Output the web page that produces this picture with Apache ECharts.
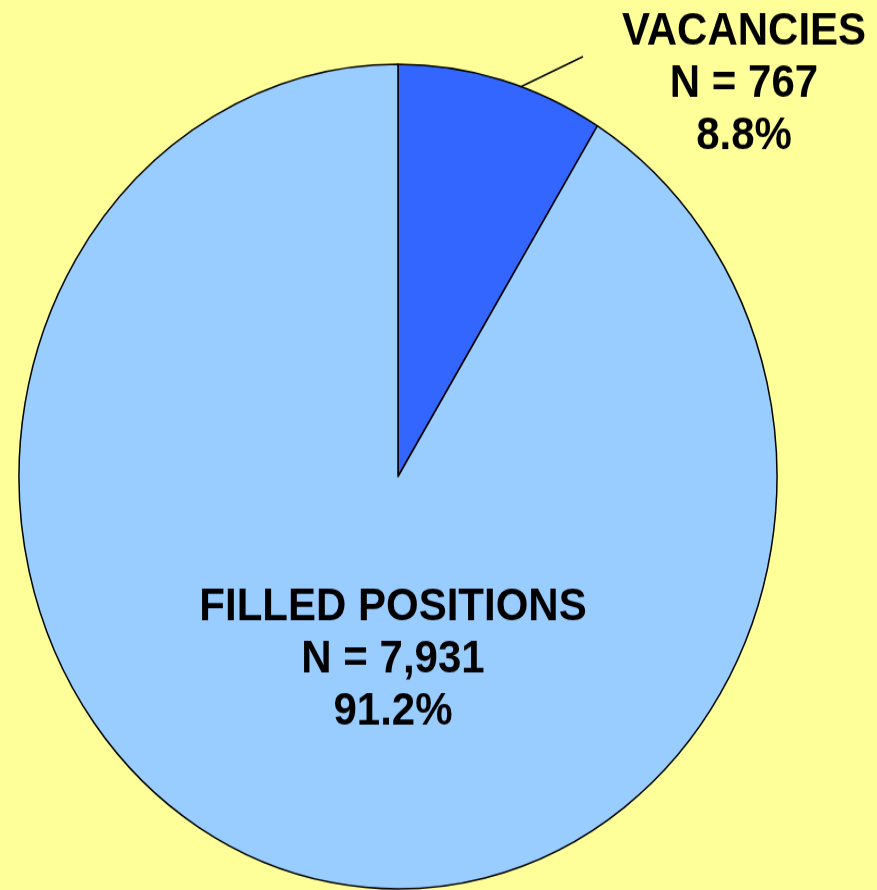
<!DOCTYPE html>
<html>
<head>
<meta charset="utf-8">
<script src="https://cdn.jsdelivr.net/npm/echarts@6/dist/echarts.min.js"></script>
<style>
    html, body {margin: 0; padding: 0; background: #FFFF99; width: 877px; height: 890px;}
    #wrap {width: 877px; height: 890px; position: relative;}
    /* the original pie is a little taller than wide, so stretch the chart vertically */
    #main {position: absolute; left: 0; top: 0; width: 877px; height: 818px; transform: scaleY(1.088); transform-origin: 0 0;}
</style>
</head>
<body>
<div id="wrap"><div id="main"></div></div>
<script>
var names = ['VACANCIES', 'FILLED POSITIONS'];
var counts = [767, 7931];
var colors = ['#3366FF', '#99CCFF'];

function pie_1() {
    var myChart = echarts.init(document.getElementById('main'));
    var pieData = [];
    for (var i = 0; i < names.length; i++) {
        pieData.push({name: names[i], value: counts[i], itemStyle: {color: colors[i]}});
    }
    var option = {
        animation: false,
        series: [
            {
                type: 'pie',
                center: [398, 438],
                radius: 379,
                startAngle: 90,
                clockwise: true,
                avoidLabelOverlap: false,
                itemStyle: {
                    borderColor: '#000',
                    borderWidth: 1.5
                },
                label: {
                    show: true,
                    position: 'outside',
                    color: '#000',
                    fontFamily: '"Liberation Sans", Arial, sans-serif',
                    fontWeight: 'bold',
                    fontSize: 42,
                    lineHeight: 48,
                    align: 'center',
                    formatter: function (p) {
                        return p.name + '\nN = ' + p.value.toLocaleString('en-US') + '\n' + p.percent.toFixed(1) + '%';
                    }
                },
                labelLine: {
                    show: true,
                    lineStyle: {color: '#000', width: 1.5}
                },
                labelLayout: function (p) {
                    if (p.dataIndex === 0) {
                        return {
                            x: 744, y: 77, align: 'center', verticalAlign: 'middle',
                            labelLinePoints: [[518, 81], [583, 52], [583, 52]]
                        };
                    }
                    return {x: 393, y: 606, align: 'center', verticalAlign: 'middle'};
                },
                data: pieData
            }
        ]
    };
    option.series[0].data[1].labelLine = {show: false};
    myChart.setOption(option);
}
pie_1();
</script>
</body>
</html>
